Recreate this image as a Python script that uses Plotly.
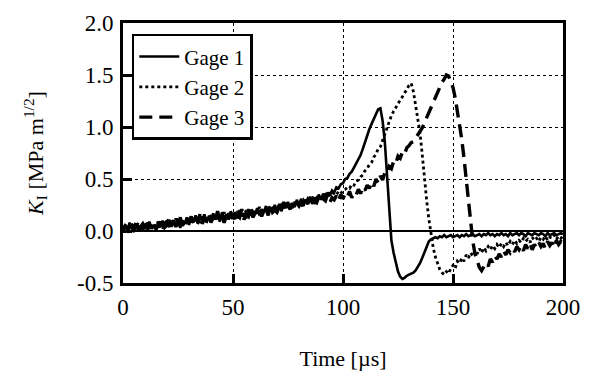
import plotly.graph_objects as go

# time axis in microseconds (1 us sampling)
time_us = list(range(0, 201))

gage1 = [
    0.02, 0.06, 0.01, 0.08, 0.03, -0.01, 0.07, 0.02, 0.05, 0.00,
    0.07, 0.03, 0.09, 0.02, 0.06, 0.01, 0.08, 0.04, 0.10, 0.03,
    0.05, 0.11, 0.04, 0.09, 0.06, 0.12, 0.03, 0.10, 0.07, 0.13,
    0.06, 0.12, 0.08, 0.15, 0.07, 0.13, 0.10, 0.16, 0.08, 0.14,
    0.10, 0.17, 0.11, 0.15, 0.09, 0.18, 0.12, 0.16, 0.11, 0.19,
    0.13, 0.18, 0.12, 0.20, 0.14, 0.17, 0.12, 0.21, 0.15, 0.19,
    0.16, 0.22, 0.15, 0.21, 0.18, 0.24, 0.16, 0.22, 0.19, 0.25,
    0.20, 0.26, 0.19, 0.25, 0.22, 0.28, 0.21, 0.27, 0.23, 0.30,
    0.25, 0.31, 0.24, 0.30, 0.27, 0.33, 0.26, 0.32, 0.29, 0.35,
    0.30, 0.36, 0.31, 0.37, 0.34, 0.39, 0.37, 0.42, 0.41, 0.45,
    0.46, 0.50, 0.51, 0.55, 0.57, 0.61, 0.64, 0.69, 0.73, 0.79,
    0.86, 0.92, 0.98, 1.03, 1.08, 1.13, 1.17, 1.18, 1.06, 0.86,
    0.52, 0.14, -0.09, -0.21, -0.31, -0.39, -0.44, -0.46, -0.45, -0.43,
    -0.42, -0.41, -0.40, -0.38, -0.35, -0.31, -0.26, -0.20, -0.14, -0.10,
    -0.08, -0.07, -0.06, -0.07, -0.05, -0.06, -0.04, -0.06, -0.05, -0.04,
    -0.06, -0.05, -0.04, -0.06, -0.04, -0.05, -0.03, -0.05, -0.04, -0.03,
    -0.05, -0.04, -0.03, -0.05, -0.03, -0.04, -0.02, -0.04, -0.03, -0.05,
    -0.03, -0.04, -0.02, -0.04, -0.03, -0.05, -0.02, -0.04, -0.03, -0.02,
    -0.04, -0.02, -0.03, -0.05, -0.02, -0.03, -0.04, -0.02, -0.03, -0.04,
    -0.02, -0.03, -0.05, -0.02, -0.04, -0.03, -0.02, -0.04, -0.03, -0.02,
    -0.03,
]

gage2 = [
    0.04, 0.00, 0.05, 0.03, 0.07, 0.01, 0.04, 0.08, 0.02, 0.06,
    0.02, 0.08, 0.05, 0.01, 0.07, 0.04, 0.09, 0.03, 0.06, 0.10,
    0.07, 0.04, 0.10, 0.06, 0.12, 0.05, 0.09, 0.06, 0.11, 0.08,
    0.11, 0.07, 0.13, 0.09, 0.12, 0.08, 0.14, 0.11, 0.15, 0.10,
    0.14, 0.12, 0.16, 0.10, 0.15, 0.13, 0.18, 0.12, 0.17, 0.14,
    0.16, 0.13, 0.19, 0.15, 0.18, 0.14, 0.20, 0.16, 0.19, 0.15,
    0.20, 0.17, 0.23, 0.18, 0.21, 0.17, 0.24, 0.20, 0.22, 0.19,
    0.24, 0.21, 0.26, 0.22, 0.27, 0.23, 0.25, 0.22, 0.28, 0.25,
    0.29, 0.26, 0.30, 0.27, 0.31, 0.28, 0.33, 0.29, 0.32, 0.30,
    0.34, 0.31, 0.35, 0.33, 0.36, 0.34, 0.37, 0.35, 0.38, 0.36,
    0.39, 0.40, 0.42, 0.41, 0.45, 0.44, 0.48, 0.49, 0.52, 0.54,
    0.58, 0.60, 0.64, 0.66, 0.71, 0.74, 0.79, 0.81, 0.87, 0.93,
    1.00, 1.05, 1.11, 1.15, 1.19, 1.22, 1.26, 1.29, 1.33, 1.36,
    1.40, 1.42, 1.34, 1.21, 1.08, 0.94, 0.74, 0.50, 0.30, 0.12,
    -0.04, -0.16, -0.25, -0.32, -0.37, -0.40, -0.42, -0.39, -0.41, -0.36,
    -0.33, -0.36, -0.29, -0.31, -0.26, -0.29, -0.23, -0.26, -0.21, -0.24,
    -0.19, -0.22, -0.17, -0.21, -0.16, -0.19, -0.15, -0.18, -0.14, -0.17,
    -0.13, -0.16, -0.12, -0.15, -0.11, -0.14, -0.10, -0.13, -0.09, -0.12,
    -0.09, -0.11, -0.07, -0.10, -0.08, -0.11, -0.06, -0.09, -0.07, -0.10,
    -0.06, -0.08, -0.05, -0.09, -0.06, -0.07, -0.04, -0.08, -0.05, -0.07,
    -0.05,
]

gage3 = [
    0.01, 0.05, 0.03, -0.02, 0.06, 0.02, 0.09, 0.00, 0.04, 0.07,
    0.03, 0.00, 0.06, 0.04, 0.08, 0.02, 0.05, 0.09, 0.01, 0.07,
    0.09, 0.03, 0.07, 0.10, 0.04, 0.08, 0.13, 0.05, 0.09, 0.06,
    0.10, 0.14, 0.06, 0.11, 0.09, 0.16, 0.07, 0.12, 0.10, 0.17,
    0.08, 0.13, 0.11, 0.19, 0.10, 0.14, 0.08, 0.15, 0.13, 0.11,
    0.17, 0.10, 0.15, 0.13, 0.21, 0.11, 0.16, 0.14, 0.22, 0.13,
    0.17, 0.15, 0.20, 0.14, 0.19, 0.21, 0.15, 0.25, 0.18, 0.20,
    0.18, 0.23, 0.20, 0.28, 0.19, 0.24, 0.21, 0.26, 0.23, 0.27,
    0.24, 0.28, 0.22, 0.29, 0.26, 0.31, 0.25, 0.28, 0.27, 0.33,
    0.28, 0.31, 0.29, 0.35, 0.27, 0.32, 0.30, 0.34, 0.29, 0.35,
    0.31, 0.36, 0.33, 0.38, 0.32, 0.37, 0.35, 0.40, 0.36, 0.42,
    0.39, 0.44, 0.41, 0.47, 0.43, 0.50, 0.46, 0.53, 0.49, 0.56,
    0.55, 0.62, 0.60, 0.67, 0.65, 0.72, 0.70, 0.76, 0.74, 0.80,
    0.82, 0.85, 0.86, 0.89, 0.92, 0.95, 0.99, 1.04, 1.09, 1.14,
    1.19, 1.24, 1.29, 1.34, 1.39, 1.43, 1.46, 1.50, 1.49, 1.44,
    1.38, 1.28, 1.15, 1.02, 0.88, 0.70, 0.48, 0.28, 0.08, -0.10,
    -0.22, -0.30, -0.35, -0.38, -0.35, -0.31, -0.34, -0.27, -0.30, -0.24,
    -0.27, -0.22, -0.25, -0.19, -0.23, -0.18, -0.21, -0.17, -0.20, -0.15,
    -0.18, -0.14, -0.19, -0.13, -0.17, -0.12, -0.18, -0.13, -0.16, -0.11,
    -0.15, -0.12, -0.17, -0.10, -0.14, -0.11, -0.16, -0.09, -0.13, -0.10,
    -0.12,
]

series_names = ["Gage 1", "Gage 2", "Gage 3"]
x_ticks = [0, 50, 100, 150, 200]
y_ticks = [-0.5, 0.0, 0.5, 1.0, 1.5, 2.0]

FONT = "Liberation Serif"

fig = go.Figure()
fig.add_trace(go.Scatter(x=time_us, y=gage1, name=series_names[0], mode="lines",
                         line=dict(color="black", width=2.6, dash="solid")))
fig.add_trace(go.Scatter(x=time_us, y=gage2, name=series_names[1], mode="lines",
                         line=dict(color="black", width=2.8, dash="dot")))
fig.add_trace(go.Scatter(x=time_us, y=gage3, name=series_names[2], mode="lines",
                         line=dict(color="black", width=3.4, dash="13px,7px")))

axis_common = dict(
    showline=True, linecolor="black", linewidth=3, mirror=True,
    ticks="inside", ticklen=9, tickwidth=3, tickcolor="black",
    showgrid=True, gridcolor="black", gridwidth=1.2, griddash="dot",
    tickfont=dict(family=FONT, size=23, color="black"),
)

fig.update_xaxes(range=[0, 200], tickvals=x_ticks,
                 ticktext=[str(v) for v in x_ticks],
                 zeroline=False, ticklabelstandoff=1,
                 title=dict(text="Time [µs]", font=dict(family=FONT, size=22, color="black"),
                            standoff=33),
                 **axis_common)
fig.update_yaxes(range=[-0.5, 2.0], tickvals=y_ticks,
                 ticktext=[f"{v:.1f}" for v in y_ticks],
                 zeroline=True, zerolinecolor="black", zerolinewidth=2,
                 ticklabelstandoff=2,
                 title=dict(text="<i>K</i><sub>I</sub> [MPa m<sup>1/2</sup>]",
                            font=dict(family=FONT, size=22, color="black"),
                            standoff=28),
                 **axis_common)

fig.update_layout(
    width=597, height=371,
    margin=dict(l=123, r=34, t=23, b=88, autoexpand=False),
    paper_bgcolor="white", plot_bgcolor="white",
    font=dict(family=FONT, size=21, color="black"),
    showlegend=True,
    legend=dict(x=0.02, y=0.958, xanchor="left", yanchor="top",
                bgcolor="white", bordercolor="black", borderwidth=2.5,
                font=dict(family=FONT, size=21, color="black"),
                tracegroupgap=0, itemwidth=40),
)

fig.write_html("out.html", config={"displayModeBar": False},
               post_script="document.body.style.margin='0px';")
